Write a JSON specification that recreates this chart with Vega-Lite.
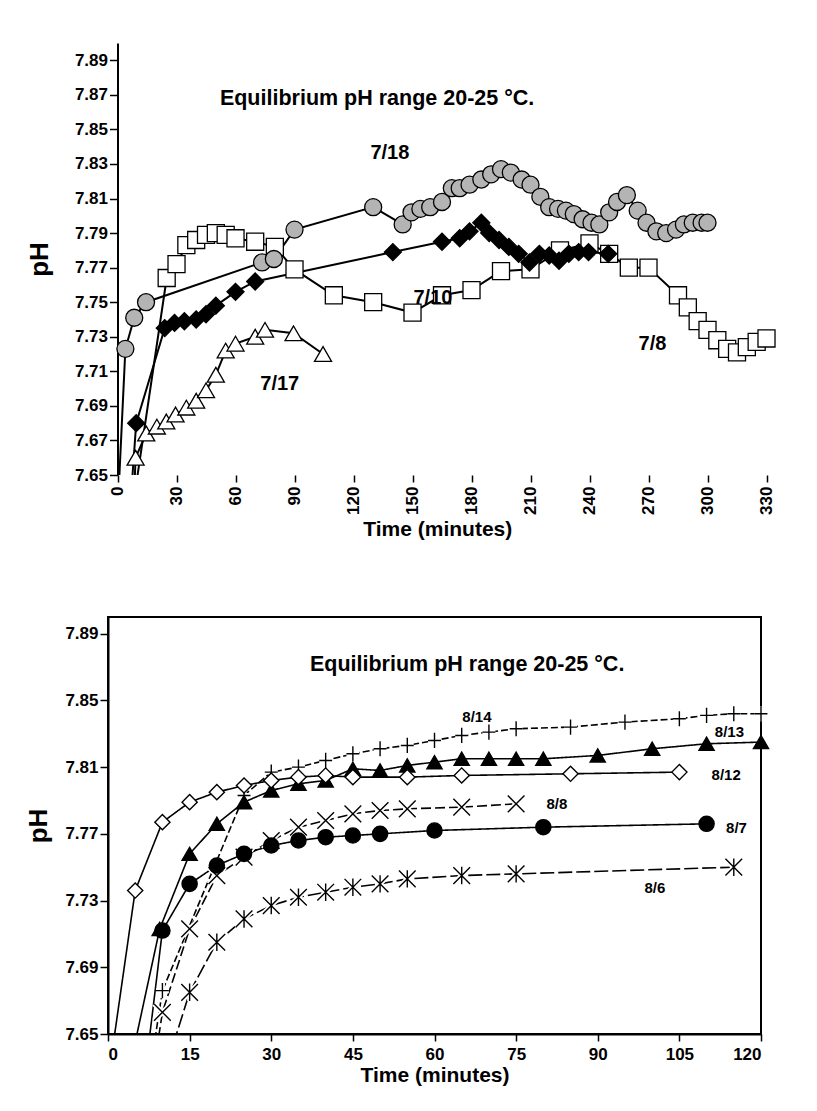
{
  "$schema": "https://vega.github.io/schema/vega-lite/v6.json",
  "background": "white",
  "padding": {"left": 24, "top": 43, "right": 10, "bottom": 10},
  "spacing": 76,
  "resolve": {"scale": {"shape": "independent", "fill": "independent", "strokeDash": "independent", "x": "independent", "y": "independent"}},
  "config": {
    "font": "Liberation Sans",
    "view": {"stroke": "black", "strokeWidth": 2},
    "axis": {"grid": false, "domainColor": "black", "domainWidth": 2, "tickColor": "black", "tickWidth": 1.5, "tickSize": 7, "labelColor": "black", "labelFont": "Liberation Sans", "labelFontWeight": "bold", "labelFontSize": 17, "titleColor": "black", "titleFont": "Liberation Sans", "titleFontWeight": "bold"}
  },
  "datasets": {
    "top": [
      {"s":"7/8","t":5,"pH":7.61},{"s":"7/8","t":25,"pH":7.764},{"s":"7/8","t":30,"pH":7.772},{"s":"7/8","t":35,"pH":7.783},{"s":"7/8","t":40,"pH":7.786},{"s":"7/8","t":45,"pH":7.789},{"s":"7/8","t":50,"pH":7.790},{"s":"7/8","t":55,"pH":7.789},{"s":"7/8","t":60,"pH":7.787},{"s":"7/8","t":70,"pH":7.785},{"s":"7/8","t":80,"pH":7.782},{"s":"7/8","t":90,"pH":7.769},{"s":"7/8","t":110,"pH":7.754},{"s":"7/8","t":130,"pH":7.750},{"s":"7/8","t":150,"pH":7.744},{"s":"7/8","t":165,"pH":7.754},{"s":"7/8","t":180,"pH":7.757},{"s":"7/8","t":195,"pH":7.768},{"s":"7/8","t":210,"pH":7.769},{"s":"7/8","t":225,"pH":7.780},{"s":"7/8","t":240,"pH":7.784},{"s":"7/8","t":250,"pH":7.778},{"s":"7/8","t":260,"pH":7.770},{"s":"7/8","t":270,"pH":7.770},{"s":"7/8","t":285,"pH":7.754},{"s":"7/8","t":290,"pH":7.747},{"s":"7/8","t":295,"pH":7.739},{"s":"7/8","t":300,"pH":7.734},{"s":"7/8","t":305,"pH":7.728},{"s":"7/8","t":310,"pH":7.723},{"s":"7/8","t":315,"pH":7.721},{"s":"7/8","t":320,"pH":7.724},{"s":"7/8","t":325,"pH":7.727},{"s":"7/8","t":330,"pH":7.729},
      {"s":"7/17","t":7,"pH":7.60},{"s":"7/17","t":9.2,"pH":7.660},{"s":"7/17","t":14.6,"pH":7.674},{"s":"7/17","t":20,"pH":7.678},{"s":"7/17","t":24.8,"pH":7.681},{"s":"7/17","t":29.5,"pH":7.685},{"s":"7/17","t":35,"pH":7.689},{"s":"7/17","t":40,"pH":7.693},{"s":"7/17","t":45,"pH":7.699},{"s":"7/17","t":50,"pH":7.708},{"s":"7/17","t":55,"pH":7.722},{"s":"7/17","t":60,"pH":7.726},{"s":"7/17","t":70,"pH":7.730},{"s":"7/17","t":75,"pH":7.734},{"s":"7/17","t":89.5,"pH":7.732},{"s":"7/17","t":104.5,"pH":7.720},
      {"s":"7/18","t":0,"pH":7.627},{"s":"7/18","t":4,"pH":7.723},{"s":"7/18","t":8.5,"pH":7.741},{"s":"7/18","t":14.5,"pH":7.750},{"s":"7/18","t":73.5,"pH":7.773},{"s":"7/18","t":79.5,"pH":7.775},{"s":"7/18","t":90,"pH":7.792},{"s":"7/18","t":130,"pH":7.805},{"s":"7/18","t":145,"pH":7.795},{"s":"7/18","t":149.5,"pH":7.802},{"s":"7/18","t":154,"pH":7.804},{"s":"7/18","t":159,"pH":7.805},{"s":"7/18","t":165,"pH":7.808},{"s":"7/18","t":170,"pH":7.816},{"s":"7/18","t":174,"pH":7.816},{"s":"7/18","t":179,"pH":7.818},{"s":"7/18","t":185,"pH":7.821},{"s":"7/18","t":190,"pH":7.824},{"s":"7/18","t":195,"pH":7.827},{"s":"7/18","t":200,"pH":7.825},{"s":"7/18","t":205.5,"pH":7.821},{"s":"7/18","t":210,"pH":7.818},{"s":"7/18","t":215,"pH":7.811},{"s":"7/18","t":219.5,"pH":7.805},{"s":"7/18","t":224,"pH":7.804},{"s":"7/18","t":228,"pH":7.803},{"s":"7/18","t":232,"pH":7.801},{"s":"7/18","t":236.5,"pH":7.798},{"s":"7/18","t":241,"pH":7.796},{"s":"7/18","t":245,"pH":7.795},{"s":"7/18","t":250,"pH":7.802},{"s":"7/18","t":254,"pH":7.808},{"s":"7/18","t":259,"pH":7.812},{"s":"7/18","t":264.5,"pH":7.803},{"s":"7/18","t":269,"pH":7.796},{"s":"7/18","t":274,"pH":7.791},{"s":"7/18","t":279,"pH":7.790},{"s":"7/18","t":284,"pH":7.792},{"s":"7/18","t":288,"pH":7.795},{"s":"7/18","t":292.5,"pH":7.796},{"s":"7/18","t":297,"pH":7.796},{"s":"7/18","t":300,"pH":7.796},
      {"s":"7/10","t":5,"pH":7.608},{"s":"7/10","t":9.5,"pH":7.680},{"s":"7/10","t":24,"pH":7.735},{"s":"7/10","t":29,"pH":7.738},{"s":"7/10","t":34,"pH":7.739},{"s":"7/10","t":40,"pH":7.740},{"s":"7/10","t":45,"pH":7.743},{"s":"7/10","t":50,"pH":7.748},{"s":"7/10","t":60,"pH":7.756},{"s":"7/10","t":70,"pH":7.762},{"s":"7/10","t":140,"pH":7.779},{"s":"7/10","t":165,"pH":7.785},{"s":"7/10","t":174,"pH":7.787},{"s":"7/10","t":179,"pH":7.791},{"s":"7/10","t":185,"pH":7.796},{"s":"7/10","t":189,"pH":7.790},{"s":"7/10","t":194,"pH":7.786},{"s":"7/10","t":199,"pH":7.782},{"s":"7/10","t":204,"pH":7.778},{"s":"7/10","t":209.5,"pH":7.773},{"s":"7/10","t":214.5,"pH":7.778},{"s":"7/10","t":219.5,"pH":7.777},{"s":"7/10","t":224.5,"pH":7.774},{"s":"7/10","t":229.5,"pH":7.778},{"s":"7/10","t":234.5,"pH":7.779},{"s":"7/10","t":239.5,"pH":7.779},{"s":"7/10","t":249.5,"pH":7.778}
    ],
    "toplab": [
      {"label":"7/18","t":138.5,"pH":7.8364},
      {"label":"7/10","t":160.4,"pH":7.7527},
      {"label":"7/17","t":82.5,"pH":7.7025},
      {"label":"7/8","t":272,"pH":7.726}
    ],
    "toptitle": [
      {"label":"Equilibrium pH range 20-25 °C.","t":132,"pH":7.8675}
    ],
    "bot": [
      {"s":"8/14","t":5,"pH":7.57},{"s":"8/14","t":10,"pH":7.676},{"s":"8/14","t":25,"pH":7.793},{"s":"8/14","t":30,"pH":7.807},{"s":"8/14","t":35,"pH":7.810},{"s":"8/14","t":40,"pH":7.814},{"s":"8/14","t":45,"pH":7.818},{"s":"8/14","t":50,"pH":7.821},{"s":"8/14","t":55,"pH":7.823},{"s":"8/14","t":60,"pH":7.826},{"s":"8/14","t":65,"pH":7.829},{"s":"8/14","t":70,"pH":7.831},{"s":"8/14","t":75,"pH":7.833},{"s":"8/14","t":85,"pH":7.834},{"s":"8/14","t":95,"pH":7.837},{"s":"8/14","t":105,"pH":7.839},{"s":"8/14","t":110,"pH":7.841},{"s":"8/14","t":115,"pH":7.842},{"s":"8/14","t":120,"pH":7.842},
      {"s":"8/13","t":4,"pH":7.63},{"s":"8/13","t":9.5,"pH":7.713},{"s":"8/13","t":15,"pH":7.758},{"s":"8/13","t":20,"pH":7.776},{"s":"8/13","t":25,"pH":7.789},{"s":"8/13","t":30,"pH":7.796},{"s":"8/13","t":35,"pH":7.800},{"s":"8/13","t":40,"pH":7.802},{"s":"8/13","t":45,"pH":7.809},{"s":"8/13","t":50,"pH":7.808},{"s":"8/13","t":55,"pH":7.811},{"s":"8/13","t":60,"pH":7.813},{"s":"8/13","t":65,"pH":7.815},{"s":"8/13","t":70,"pH":7.815},{"s":"8/13","t":75,"pH":7.815},{"s":"8/13","t":80,"pH":7.815},{"s":"8/13","t":90,"pH":7.817},{"s":"8/13","t":100,"pH":7.821},{"s":"8/13","t":110,"pH":7.824},{"s":"8/13","t":120,"pH":7.825},
      {"s":"8/12","t":0,"pH":7.622},{"s":"8/12","t":5,"pH":7.736},{"s":"8/12","t":10,"pH":7.777},{"s":"8/12","t":15,"pH":7.789},{"s":"8/12","t":20,"pH":7.795},{"s":"8/12","t":25,"pH":7.799},{"s":"8/12","t":30,"pH":7.802},{"s":"8/12","t":35,"pH":7.804},{"s":"8/12","t":40,"pH":7.805},{"s":"8/12","t":45,"pH":7.804},{"s":"8/12","t":55,"pH":7.804},{"s":"8/12","t":65,"pH":7.805},{"s":"8/12","t":85,"pH":7.806},{"s":"8/12","t":105,"pH":7.807},
      {"s":"8/8","t":5,"pH":7.557},{"s":"8/8","t":10,"pH":7.663},{"s":"8/8","t":15,"pH":7.713},{"s":"8/8","t":20,"pH":7.745},{"s":"8/8","t":25,"pH":7.756},{"s":"8/8","t":30,"pH":7.766},{"s":"8/8","t":35,"pH":7.774},{"s":"8/8","t":40,"pH":7.778},{"s":"8/8","t":45,"pH":7.782},{"s":"8/8","t":50,"pH":7.784},{"s":"8/8","t":55,"pH":7.785},{"s":"8/8","t":65,"pH":7.786},{"s":"8/8","t":75,"pH":7.788},
      {"s":"8/7","t":5,"pH":7.577},{"s":"8/7","t":10,"pH":7.712},{"s":"8/7","t":15,"pH":7.740},{"s":"8/7","t":20,"pH":7.751},{"s":"8/7","t":25,"pH":7.758},{"s":"8/7","t":30,"pH":7.763},{"s":"8/7","t":35,"pH":7.766},{"s":"8/7","t":40,"pH":7.768},{"s":"8/7","t":45,"pH":7.769},{"s":"8/7","t":50,"pH":7.770},{"s":"8/7","t":60,"pH":7.772},{"s":"8/7","t":80,"pH":7.774},{"s":"8/7","t":110,"pH":7.776},
      {"s":"8/6","t":10,"pH":7.623},{"s":"8/6","t":15,"pH":7.675},{"s":"8/6","t":20,"pH":7.705},{"s":"8/6","t":25,"pH":7.719},{"s":"8/6","t":30,"pH":7.727},{"s":"8/6","t":35,"pH":7.732},{"s":"8/6","t":40,"pH":7.735},{"s":"8/6","t":45,"pH":7.738},{"s":"8/6","t":50,"pH":7.740},{"s":"8/6","t":55,"pH":7.743},{"s":"8/6","t":65,"pH":7.745},{"s":"8/6","t":75,"pH":7.746},{"s":"8/6","t":115,"pH":7.750}
    ],
    "botlab": [
      {"label":"8/14","t":67.8,"pH":7.840},
      {"label":"8/13","t":114.2,"pH":7.831},
      {"label":"8/12","t":113.6,"pH":7.805},
      {"label":"8/8","t":82.5,"pH":7.788},
      {"label":"8/7","t":115.5,"pH":7.7736},
      {"label":"8/6","t":100.5,"pH":7.7376}
    ],
    "bottitle": [
      {"label":"Equilibrium pH range 20-25  °C.","t":66,"pH":7.8712}
    ]
  },
  "vconcat": [
    {
      "width": 658.5,
      "height": 432,
      "view": {"stroke": null},
      "encoding": {
        "x": {"field": "t", "type": "quantitative", "scale": {"domain": [-4.84, 330], "nice": false, "zero": false},
              "axis": {"title": "Time (minutes)", "domain": false, "values": [0,30,60,90,120,150,180,210,240,270,300,330], "labelAngle": -90, "labelAlign": "right", "labelBaseline": "middle", "labelPadding": 4, "titleFontSize": 21, "titlePadding": 4}},
        "y": {"field": "pH", "type": "quantitative", "scale": {"domain": [7.65, 7.90], "nice": false, "zero": false},
              "axis": {"title": "pH", "offset": -9.5, "values": [7.65,7.67,7.69,7.71,7.73,7.75,7.77,7.79,7.81,7.83,7.85,7.87,7.89], "format": ".2f", "tickSize": 8, "labelPadding": 2, "titleFontSize": 26, "titlePadding": 22}}
      },
      "layer": [
        {"data": {"name": "top"}, "mark": {"type": "line", "clip": true, "color": "black", "strokeWidth": 2},
         "encoding": {"detail": {"field": "s", "type": "nominal"}}},
        {"data": {"name": "top"}, "transform": [{"filter": "datum.pH >= 7.65"}],
         "mark": {"type": "point", "filled": true, "opacity": 1, "stroke": "black", "strokeWidth": 1.3, "size": 290},
         "encoding": {
           "shape": {"field": "s", "type": "nominal", "scale": {"domain": ["7/18","7/10","7/8","7/17"], "range": ["circle","diamond","square","triangle-up"]}, "legend": null},
           "fill": {"field": "s", "type": "nominal", "scale": {"domain": ["7/18","7/10","7/8","7/17"], "range": ["#b4b4b4","black","white","white"]}, "legend": null}
         }},
        {"mark": {"type": "rule", "color": "black", "strokeWidth": 3}, "encoding": {"y": {"datum": 7.85}, "x": {"datum": 0}, "x2": {"datum": 330}}},
        {"mark": {"type": "rule", "color": "black", "strokeWidth": 2}, "encoding": {"y": {"datum": 7.90}, "x": {"datum": 0}, "x2": {"datum": 330}}},
        {"mark": {"type": "rule", "color": "black", "strokeWidth": 2}, "encoding": {"y": {"datum": 7.65}, "x": {"datum": 0}, "x2": {"datum": 330}}},
        {"mark": {"type": "rule", "color": "black", "strokeWidth": 2}, "encoding": {"x": {"datum": 330}, "y": {"datum": 7.65}, "y2": {"datum": 7.90}}},
        {"data": {"name": "toplab"}, "mark": {"type": "text", "fontSize": 20, "fontWeight": "bold", "font": "Liberation Sans", "color": "black", "align": "center", "baseline": "middle"},
         "encoding": {"text": {"field": "label"}}},
        {"data": {"name": "toptitle"}, "mark": {"type": "text", "fontSize": 21.5, "fontWeight": "bold", "font": "Liberation Sans", "color": "black", "align": "center", "baseline": "middle"},
         "encoding": {"text": {"field": "label"}}}
      ]
    },
    {
      "width": 653,
      "height": 417,
      "encoding": {
        "x": {"field": "t", "type": "quantitative", "scale": {"domain": [0, 120], "nice": false, "zero": false},
              "axis": {"title": "Time (minutes)", "values": [0,15,30,45,60,75,90,105,120], "labelAngle": 0, "labelPadding": 5, "titleFontSize": 21, "titlePadding": 2}},
        "y": {"field": "pH", "type": "quantitative", "scale": {"domain": [7.65, 7.90], "nice": false, "zero": false},
              "axis": {"title": "pH", "values": [7.65,7.69,7.73,7.77,7.81,7.85,7.89], "format": ".2f", "tickSize": 8, "labelPadding": 2, "titleFontSize": 26, "titlePadding": 13}}
      },
      "layer": [
        {"data": {"name": "bot"}, "mark": {"type": "line", "clip": true, "color": "black", "strokeWidth": 1.6},
         "encoding": {
           "detail": {"field": "s", "type": "nominal"},
           "strokeDash": {"field": "s", "type": "nominal", "scale": {"domain": ["8/14","8/13","8/12","8/8","8/7","8/6"], "range": [[7,3],[1,0],[1,0],[10,4],[1,0],[14,4]]}, "legend": null}
         }},
        {"data": {"name": "bot"}, "transform": [{"filter": "datum.pH >= 7.65 && (datum.s == '8/14' || datum.s == '8/8' || datum.s == '8/6')"}],
         "mark": {"type": "point", "filled": false, "opacity": 1, "stroke": "white", "strokeWidth": 5, "size": 230},
         "encoding": {
           "shape": {"field": "s", "type": "nominal", "scale": {"domain": ["8/14","8/13","8/12","8/8","8/7","8/6"], "range": ["M-0.85,0L0.85,0M0,-1L0,1","triangle-up","diamond","M-1.1,-1.1L1.1,1.1M-1.1,1.1L1.1,-1.1","circle","M-1.1,-1.1L1.1,1.1M-1.1,1.1L1.1,-1.1M0,-1.15L0,1.15"]}, "legend": null}
         }},
        {"data": {"name": "bot"}, "transform": [{"filter": "datum.pH >= 7.65"}],
         "mark": {"type": "point", "filled": true, "opacity": 1, "stroke": "black", "strokeWidth": 1.4, "size": 230},
         "encoding": {
           "shape": {"field": "s", "type": "nominal", "scale": {"domain": ["8/14","8/13","8/12","8/8","8/7","8/6"], "range": ["M-0.85,0L0.85,0M0,-1L0,1","triangle-up","diamond","M-1.1,-1.1L1.1,1.1M-1.1,1.1L1.1,-1.1","circle","M-1.1,-1.1L1.1,1.1M-1.1,1.1L1.1,-1.1M0,-1.15L0,1.15"]}, "legend": null},
           "fill": {"field": "s", "type": "nominal", "scale": {"domain": ["8/14","8/13","8/12","8/8","8/7","8/6"], "range": ["transparent","black","white","transparent","black","transparent"]}, "legend": null}
         }},
        {"mark": {"type": "rule", "color": "black", "strokeWidth": 3}, "encoding": {"y": {"datum": 7.85}, "x": {"datum": 0}, "x2": {"datum": 120}}},
        {"data": {"name": "botlab"}, "mark": {"type": "text", "fontSize": 15, "fontWeight": "bold", "font": "Liberation Sans", "color": "black", "align": "center", "baseline": "middle"},
         "encoding": {"text": {"field": "label"}}},
        {"data": {"name": "bottitle"}, "mark": {"type": "text", "fontSize": 21.5, "fontWeight": "bold", "font": "Liberation Sans", "color": "black", "align": "center", "baseline": "middle"},
         "encoding": {"text": {"field": "label"}}}
      ]
    }
  ]
}
